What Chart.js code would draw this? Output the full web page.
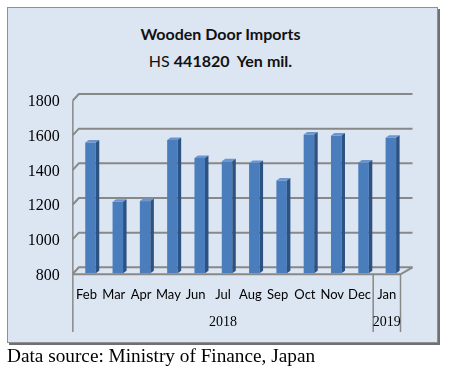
<!DOCTYPE html>
<html>
<head>
<meta charset="utf-8">
<script src="https://cdn.jsdelivr.net/npm/chart.js@4/dist/chart.umd.min.js"></script>
<style>
  body { margin: 0; background: #fff; }
  #wrap { position: relative; width: 450px; height: 373px; overflow: hidden; }
  #frame {
    position: absolute; left: 7px; top: 7px; width: 431px; height: 336px;
    box-sizing: border-box; background: #dce6f2;
    border: 1px solid #909090; box-shadow: 2px 2px 0 #707070;
  }
  #title {
    position: absolute; left: 0; top: 20px; width: 441px; text-align: center;
    font-family: Lato, sans-serif; font-size: 16px; line-height: 27px; color: #111;
  }
  #title b { font-weight: 700; }
  #source {
    position: absolute; left: 7px; top: 346px; transform: scaleX(1.07); transform-origin: left;
    font-family: "Liberation Serif", serif; font-size: 18px; line-height: 20px; color: #000;
  }
  canvas { position: absolute; left: 0; top: 0; }
</style>
</head>
<body>
<div id="wrap">
  <div id="frame"></div>
  <div id="title"><b>Wooden Door Imports</b><br>HS <b>441820&nbsp; Yen</b> <b>mil.</b></div>
  <canvas id="myChart" width="450" height="373"></canvas>
  <div id="source">Data source: Ministry of Finance, Japan</div>
</div>
<script>
const months = ["Feb", "Mar", "Apr", "May", "Jun", "Jul", "Aug", "Sep", "Oct", "Nov", "Dec", "Jan"];
const values = [1520, 1178, 1182, 1534, 1431, 1412, 1402, 1301, 1567, 1561, 1405, 1547];
const yearLabels = ["2018", "2019"];
const yearSpans = [11, 1];
const yTicks = [800, 1000, 1200, 1400, 1600, 1800];

const ctx = document.getElementById("myChart");

Chart.defaults.font.family = "'Liberation Serif', serif";
Chart.defaults.font.size = 16;
Chart.defaults.color = "#000";

// 3d look: back wall grid, floor and the year row under the months
const wallPlugin = {
  id: "wall",
  beforeDatasetsDraw(chart) {
    const c = chart.ctx;
    const a = chart.chartArea;
    const ys = chart.scales.y;
    const L = a.left, R = a.right;
    c.save();
    c.strokeStyle = "#888";
    c.lineWidth = 2;
    yTicks.forEach(function (v) {
      const y = ys.getPixelForValue(v);
      c.beginPath();
      c.moveTo(L - 4, y + 6.5);
      c.lineTo(L + 2, y);
      c.lineTo(R + 8, y);
      c.stroke();
    });
    const yb = ys.getPixelForValue(800);
    c.beginPath();
    c.moveTo(L - 4, yb + 7);
    c.lineTo(R - 4, yb + 7);
    c.lineTo(R + 8, yb);
    c.stroke();
    c.restore();
  },
  afterDraw(chart) {
    const c = chart.ctx;
    const a = chart.chartArea;
    const ys = chart.scales.y;
    const w = (a.right - a.left) / months.length;
    const top = ys.getPixelForValue(1800) + 6.5;
    const yb = ys.getPixelForValue(800) + 7;
    c.save();
    c.strokeStyle = "#888";
    c.lineWidth = 1.5;
    c.beginPath();
    c.moveTo(a.left - 4, top);
    c.lineTo(a.left - 4, 332);
    c.stroke();
    c.font = "14px 'Liberation Serif', serif";
    c.fillStyle = "#000";
    c.textAlign = "center";
    c.textBaseline = "middle";
    let i = 0;
    yearLabels.forEach(function (lab, k) {
      const x0 = a.left - 4 + i * w;
      i += yearSpans[k];
      const x1 = a.left - 4 + i * w;
      c.beginPath();
      c.moveTo(x1, yb);
      c.lineTo(x1, 332);
      c.stroke();
      c.fillText(lab, (x0 + x1) / 2, 322);
    });
    c.restore();
  },
  afterDatasetsDraw(chart) {
    const c = chart.ctx;
    const meta = chart.getDatasetMeta(0);
    c.save();
    meta.data.forEach(function (bar) {
      const p = bar.getProps(["x", "y", "base", "width"], true);
      const l = p.x - p.width / 2, r = p.x + p.width / 2;
      const d = 3.5, h = 2.5;
      c.fillStyle = "#6a95cf";
      c.beginPath();
      c.moveTo(l, p.y);
      c.lineTo(l + d, p.y - h);
      c.lineTo(r + d, p.y - h);
      c.lineTo(r, p.y);
      c.closePath();
      c.fill();
      c.fillStyle = "#2c5283";
      c.beginPath();
      c.moveTo(r, p.y);
      c.lineTo(r + d, p.y - h);
      c.lineTo(r + d, p.base - h);
      c.lineTo(r, p.base);
      c.closePath();
      c.fill();
    });
    c.restore();
  },
};

function makeChart() {
  return new Chart(ctx, {
    type: "bar",
    data: {
      labels: months,
      datasets: [
        {
          label: "Yen mil.",
          data: values,
          backgroundColor: "#4a7dbc",
          borderWidth: 0,
          barPercentage: 0.385,
          categoryPercentage: 1,
          base: 765,
          clip: false,
        },
      ],
    },
    options: {
      responsive: false,
      animation: false,
      layout: { padding: { top: 94, right: 45.5, bottom: 0, left: 0 } },
      plugins: {
        legend: { display: false },
        title: { display: false },
        tooltip: { enabled: false },
      },
      scales: {
        y: {
          min: 800,
          max: 1800,
          afterFit(scale) { scale.width = 76.85; },
          grid: { display: false, drawTicks: false },
          border: { display: false },
          ticks: {
            stepSize: 200,
            padding: 17,
            labelOffset: 8,
            color: "#000",
            font: { size: 16 },
            callback: function (v) { return String(v); },
          },
        },
        x: {
          afterFit(scale) { scale.height = 105.7; },
          grid: { display: false, drawTicks: false },
          border: { display: false },
          ticks: {
            padding: 20,
            labelOffset: -4,
            maxRotation: 0,
            autoSkip: false,
            color: "#000",
            font: { family: "Lato, sans-serif", size: 13 },
          },
        },
      },
    },
    plugins: [wallPlugin],
  });
}

let chart1;
Promise.all([
  document.fonts.load("13px Lato"),
  document.fonts.load("16px 'Liberation Serif'"),
]).then(function () { chart1 = makeChart(); }, function () { chart1 = makeChart(); });
</script>
</body>
</html>
